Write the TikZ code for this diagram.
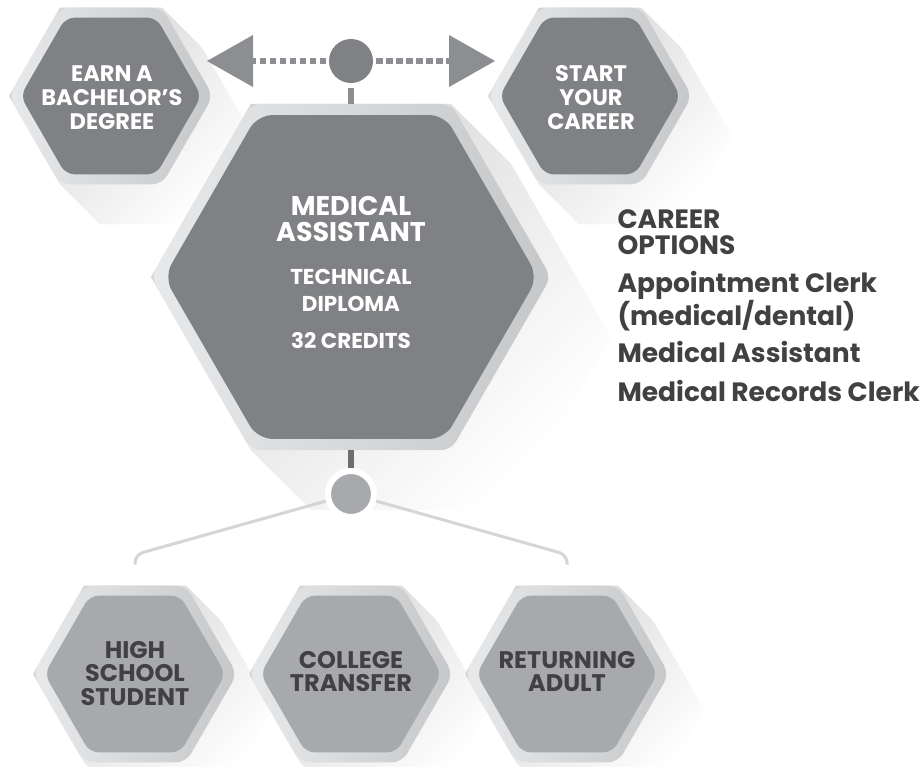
\documentclass[tikz,border=0pt]{standalone}
\usepackage{fontspec}
\setmainfont{Poppins}
\usetikzlibrary{shapes.geometric,arrows.meta}

\definecolor{hexdark}{HTML}{808184}
\definecolor{hexlight}{HTML}{A7A9AC}
\definecolor{rimlight}{HTML}{E8E9EA}
\definecolor{rimdark}{HTML}{C6C7C9}
\definecolor{inkdark}{HTML}{414042}
\definecolor{arrowgray}{HTML}{8D8E91}
\definecolor{stemgray}{HTML}{6D6E71}
\definecolor{branchgray}{HTML}{D4D5D6}

\NewDocumentCommand{\DrawHexShadow}{m m m m}{%
    \def\HexX{#1}
    \def\HexY{#2}
    \def\HexR{#3}
    \def\HexL{#4}
    %
    \begin{scope}[shift={(\HexX,\HexY)}]
        \shade[top color=black!17, bottom color=white, shading angle=45]
            (300:\HexR) -- (240:\HexR) -- (180:\HexR) -- (120:\HexR)
            -- ([shift={(\HexL,\HexL)}]120:\HexR) -- ([shift={(\HexL,\HexL)}]60:\HexR)
            -- ([shift={(\HexL,\HexL)}]0:\HexR) -- ([shift={(\HexL,\HexL)}]300:\HexR) -- cycle;
    \end{scope}
}
\NewDocumentCommand{\DrawHexTile}{O{} m m m m}{%
    % #2 name, #3 centre, #4 outer size, #5 face size
    \node [hexrim, minimum size=#4] (#2) at (#3) {};
    \node [hexface, minimum size=#5, #1] (#2-in) at (#3) {};
}

\begin{document}
\begin{tikzpicture}[
    x=1pt, y=-1pt,
    hexrim/.style={regular polygon, regular polygon sides=6, inner sep=0pt, outer sep=0pt,
        left color=rimlight, right color=rimdark, rounded corners=10pt},
    hexface/.style={regular polygon, regular polygon sides=6, inner sep=0pt, outer sep=0pt,
        fill=hexdark, rounded corners=9pt},
    toptext/.style={text=white, align=center, font=\bfseries\fontsize{22.5}{24}\selectfont},
    bottext/.style={text=inkdark, align=center, font=\bfseries\fontsize{24}{23.5}\selectfont},
    opttext/.style={text=inkdark, anchor=base west, font=\bfseries\fontsize{26.5}{30}\selectfont},
    dotline/.style={arrowgray, line width=6.5pt, dash pattern=on 6.5pt off 3.5pt},
    stem/.style={line width=6pt},
    branch/.style={branchgray, line width=3pt, rounded corners=8pt},
    dot/.style={circle, inner sep=0pt, outer sep=0pt},
    ]

    \useasboundingbox[fill=white] (0,0) rectangle (923,766);

    % long shadows first
    \DrawHexShadow{111}{96}{102}{40}
    \DrawHexShadow{590}{96}{102}{40}
    \DrawHexShadow{351}{277}{200}{60}
    \DrawHexShadow{135}{674}{102}{35}
    \DrawHexShadow{351}{674}{102}{35}
    \DrawHexShadow{567}{674}{102}{35}

    % tiles
    \DrawHexTile{bach}{111,96}{204}{181}
    \DrawHexTile{start}{590,96}{204}{181}
    \DrawHexTile[rounded corners=15pt]{main}{351,277}{400}{374}
    \DrawHexTile[fill=hexlight]{hs}{135,674}{204}{181}
    \DrawHexTile[fill=hexlight]{ct}{351,674}{204}{181}
    \DrawHexTile[fill=hexlight]{ra}{567,674}{204}{181}

    \node [toptext] (bach-txt) at (112,98) {EARN A\\BACHELOR’S\\DEGREE};
    \node [toptext] (start-txt) at (591,98) {START\\YOUR\\CAREER};
    \node [toptext, font=\bfseries\fontsize{27}{26.5}\selectfont] (main-title) at (351,219) {MEDICAL\\ASSISTANT};
    \node [toptext, font=\bfseries\fontsize{21.5}{27}\selectfont] (main-diploma) at (351,290.5) {TECHNICAL\\DIPLOMA};
    \node [toptext, font=\bfseries\fontsize{21.5}{27}\selectfont] (main-credits) at (351,341) {32 CREDITS};
    \node [bottext] (hs-txt) at (135,673.5) {HIGH\\SCHOOL\\STUDENT};
    \node [bottext] (ct-txt) at (351,671.5) {COLLEGE\\TRANSFER};
    \node [bottext] (ra-txt) at (567,671.5) {RETURNING\\ADULT};

    % top pointer
    \node [dot, minimum size=44pt, fill=hexdark] (topdot) at (351,61) {};
    \coordinate (ltip) at (207,61);
    \coordinate (rtip) at (495,61);
    \draw [dotline, shorten <=25pt, -{Triangle[length=46pt, width=52pt, line width=0pt]}] (topdot.center) -- (ltip);
    \draw [dotline, shorten <=25pt, -{Triangle[length=46pt, width=52pt, line width=0pt]}] (topdot.center) -- (rtip);
    \draw [stem, arrowgray, shorten <=5pt] (topdot.south) -- (main.north);

    % bottom branches
    \coordinate (hs-bend) at ([yshift=31pt]hs.north);
    \coordinate (hs-top) at ([yshift=21pt]hs.north);
    \coordinate (ra-bend) at ([yshift=31pt]ra.north);
    \coordinate (ra-top) at ([yshift=21pt]ra.north);
    \node [dot, minimum size=46pt, fill=hexlight, draw=white, line width=6pt] (botdot) at (351,494) {};
    \draw [branch] (botdot.center) -- (hs-bend) -- (hs-top);
    \draw [branch] (botdot.center) -- (ra-bend) -- (ra-top);
    \draw [stem, stemgray] (main.south) -- (botdot.north);
    \node [dot, minimum size=46pt, fill=hexlight, draw=white, line width=6pt] at (botdot) {};

    % career options
    \node [opttext] (opt-head1) at (614,228) {CAREER};
    \node [opttext] (opt-head2) at (614,254) {OPTIONS};
    \node [opttext] (opt-a1) at (614,292) {Appointment Clerk};
    \node [opttext] (opt-a2) at (614,325) {(medical/dental)};
    \node [opttext] (opt-b) at (614,362) {Medical Assistant};
    \node [opttext] (opt-c) at (614,401) {Medical Records Clerk};

\end{tikzpicture}
\end{document}
